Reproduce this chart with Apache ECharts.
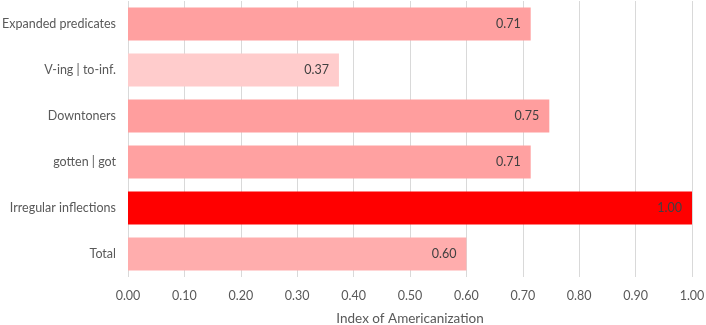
<!DOCTYPE html>
<html lang="en">
    <head>
        <meta charset="utf-8">
        <title>Index of Americanization</title>
        <style>
            html, body { margin: 0; padding: 0; background: #fff; }
        </style>
    </head>
    <body>
        <div id="main" style="width: 706px;height:325px;"></div>
        <script src="https://cdn.jsdelivr.net/npm/echarts@6/dist/echarts.min.js"></script>
        <script type="text/javascript">
            var categories = ['Expanded predicates', 'V-ing | to-inf.', 'Downtoners', 'gotten | got', 'Irregular inflections', 'Total'];
            var values = [0.714, 0.374, 0.747, 0.714, 1.00, 0.600];
            var barColors = ['#FFA0A0', '#FFCCCC', '#FF9E9E', '#FFA1A1', '#FF0000', '#FFADAD'];
            var tickLabels = ['0.00', '0.10', '0.20', '0.30', '0.40', '0.50', '0.60', '0.70', '0.80', '0.90', '1.00'];

            var myChart = echarts.init(document.getElementById('main'));
            var font = 'Lato, "Open Sans", sans-serif';

            var barData = [];
            for (var i = 0; i < values.length; i++) {
                barData.push({
                    value: values[i],
                    itemStyle: { color: barColors[i] }
                });
            }

            myChart.setOption({
                animation: false,
                backgroundColor: '#fff',
                grid: {
                    left: 128,
                    right: 14,
                    top: 1,
                    bottom: 48,
                    containLabel: false,
                    outerBoundsMode: 'none'
                },
                xAxis: {
                    type: 'value',
                    min: 0,
                    max: 1,
                    interval: 0.1,
                    name: 'Index of Americanization',
                    nameLocation: 'middle',
                    nameGap: 35,
                    nameTextStyle: { color: '#595959', fontSize: 13.5, fontFamily: font },
                    axisLine: { show: false },
                    axisTick: { show: false },
                    axisLabel: {
                        color: '#595959',
                        fontSize: 12.5,
                        fontFamily: font,
                        margin: 12,
                        formatter: function(v) {
                            return tickLabels[Math.round(v * 10)];
                        }
                    },
                    splitLine: { lineStyle: { color: '#d9d9d9', width: 1 } }
                },
                yAxis: {
                    type: 'category',
                    inverse: true,
                    data: categories,
                    axisLine: { show: false },
                    axisTick: { show: false },
                    axisLabel: {
                        color: '#595959',
                        fontSize: 12.5,
                        fontFamily: font,
                        margin: 12
                    }
                },
                series: [{
                    type: 'bar',
                    data: barData,
                    barCategoryGap: '28%',
                    label: {
                        show: true,
                        position: 'insideRight',
                        distance: 10,
                        color: '#404040',
                        fontSize: 12.5,
                        fontFamily: font,
                        formatter: function(p) {
                            return p.value.toFixed(2);
                        }
                    }
                }]
            });
        </script>
    </body>
</html>
